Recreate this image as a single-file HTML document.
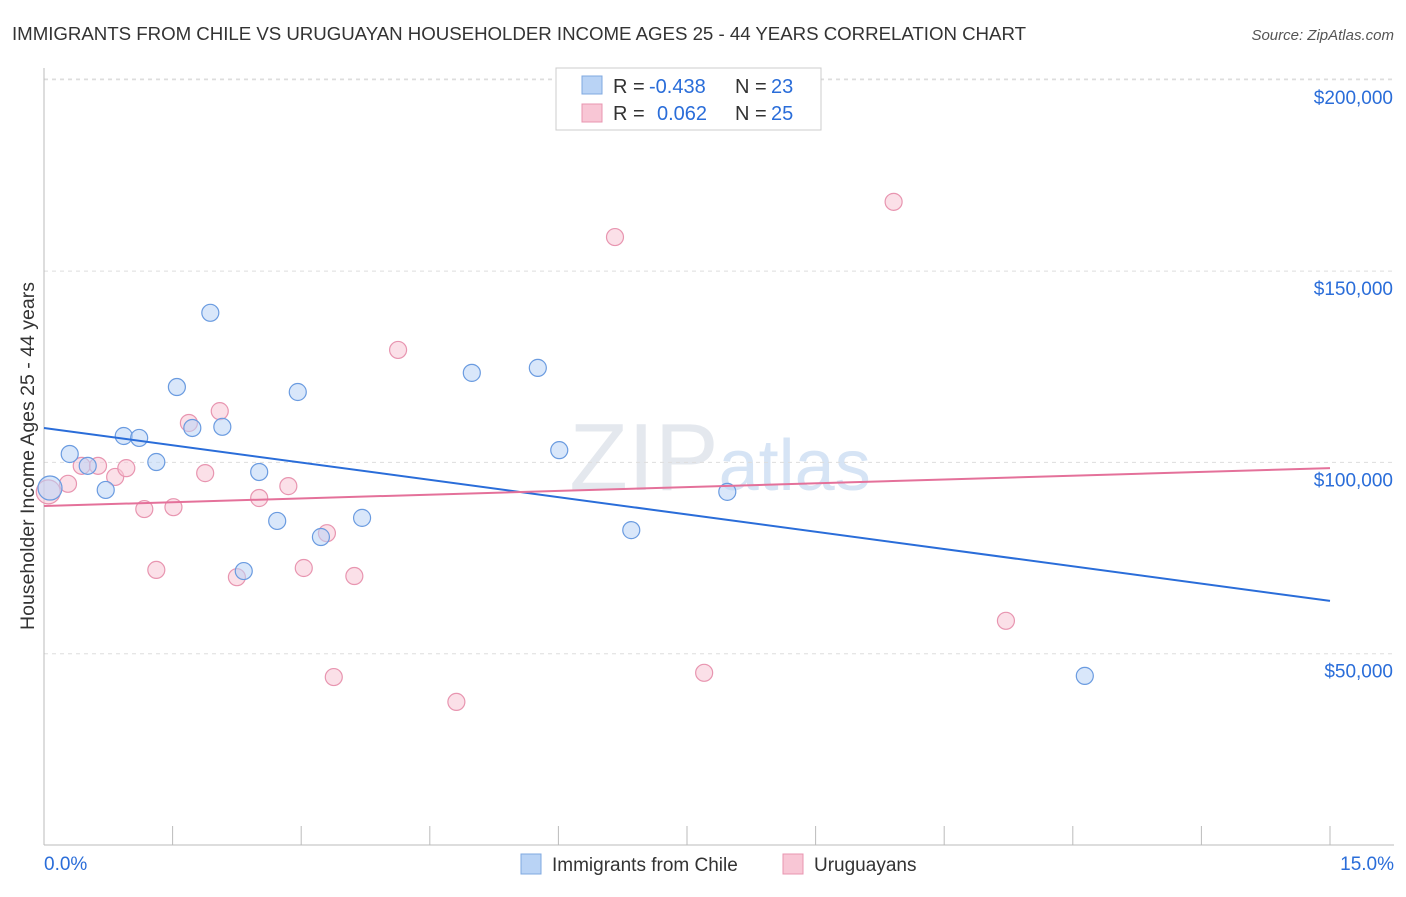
<!DOCTYPE html>
<html><head><meta charset="utf-8"><style>
body{margin:0;background:#fff;font-family:"Liberation Sans",sans-serif;}
svg text{font-family:"Liberation Sans",sans-serif;}
</style></head><body>
<svg id="chart" width="1406" height="892">
<text x="12" y="40" font-size="18.7" fill="#333" textLength="1014">IMMIGRANTS FROM CHILE VS URUGUAYAN HOUSEHOLDER INCOME AGES 25 - 44 YEARS CORRELATION CHART</text>
<text x="1394" y="40" font-size="15" fill="#555" font-style="italic" text-anchor="end">Source: ZipAtlas.com</text>
<text x="720" y="490" font-size="96" fill="#e4e8ee" text-anchor="middle" font-family="Liberation Serif">ZIP<tspan fill="#d6e4f5" font-family="Liberation Sans" font-size="72">atlas</tspan></text>
<text transform="translate(34,456) rotate(-90)" font-size="19.5" fill="#333" text-anchor="middle">Householder Income Ages 25 - 44 years</text>
<g id="grid"></g><g id="axes"></g><g id="marks"></g>
<g>
<rect x="556" y="68" width="265" height="62" fill="#fff" stroke="#ccc"/>
<rect x="582" y="76" width="20" height="18" fill="#b9d3f5" stroke="#7fa8e0"/>
<text x="613" y="93" font-size="20" fill="#333">R =</text>
<text x="649" y="93" font-size="20" fill="#2a6dd9">-0.438</text>
<text x="735" y="93" font-size="20" fill="#333">N =</text>
<text x="771" y="93" font-size="20" fill="#2a6dd9">23</text>
<rect x="582" y="104" width="20" height="18" fill="#f8c6d5" stroke="#e895b0"/>
<text x="613" y="120" font-size="20" fill="#333">R =</text>
<text x="657" y="120" font-size="20" fill="#2a6dd9">0.062</text>
<text x="735" y="120" font-size="20" fill="#333">N =</text>
<text x="771" y="120" font-size="20" fill="#2a6dd9">25</text>
</g>
<g>
<rect x="521" y="854" width="20" height="20" fill="#b9d3f5" stroke="#7fa8e0"/>
<text x="552" y="871" font-size="19" fill="#333">Immigrants from Chile</text>
<rect x="783" y="854" width="20" height="20" fill="#f8c6d5" stroke="#e895b0"/>
<text x="814" y="871" font-size="19" fill="#333">Uruguayans</text>
</g>
</svg>
<script>
const blueX=[0.07,0.30,0.51,0.72,0.93,1.11,1.31,1.55,1.73,1.94,2.08,2.51,2.72,2.96,3.23,3.71,2.33,4.99,5.76,6.01,6.85,7.97,12.14];
const blueY=[93300,102200,99100,92800,106900,106400,100100,119700,109000,139100,109300,97500,84700,118400,80500,85500,71600,123400,124700,103200,82300,92300,44200];
const pinkX=[0.05,0.28,0.44,0.63,0.83,0.96,1.17,1.31,1.51,1.69,1.88,2.05,2.25,2.51,2.85,3.03,3.30,3.38,3.62,4.13,4.81,6.66,7.70,9.91,11.22];
const pinkY=[92300,94400,99100,99100,96200,98500,87800,71900,88300,110300,97200,113400,70000,90700,93800,72400,81500,43900,70300,129400,37400,158900,45000,168100,58600];
const blueTrend=[109000,63800];
const pinkTrend=[88600,98500];
const yTicks=[50000,100000,150000,200000];
const yTickLabels=["$50,000","$100,000","$150,000","$200,000"];
const xTicks=[0,1.5,3,4.5,6,7.5,9,10.5,12,13.5,15];
const NS="http://www.w3.org/2000/svg";
const X0=44,X1=1330,YB=845,PXPER=191.3/50000;
const sx=v=>X0+(v/15)*(X1-X0);
const sy=v=>YB-v*PXPER;
function mk(tag,attrs,parent){const e=document.createElementNS(NS,tag);for(const k in attrs)e.setAttribute(k,attrs[k]);document.getElementById(parent).appendChild(e);return e;}
yTicks.forEach((t,i)=>{
 const l=mk('line',{x1:X0,x2:1394,y1:sy(t),y2:sy(t),stroke:'#ddd','stroke-dasharray':'4,4'},'grid');
 
 
 const tx=mk('text',{x:1393,y:sy(t)+24,'font-size':19,fill:'#2a6dd9','text-anchor':'end'},'axes');
 tx.textContent=yTickLabels[i];
 
 
});
const tl=mk('line',{x1:X0,x2:1394,y1:79,y2:79,stroke:'#ddd','stroke-dasharray':'4,4'},'grid');


const ya=mk('line',{x1:X0,x2:X0,y1:68,y2:YB,stroke:'#bbb'},'axes');


const xa=mk('line',{x1:X0,x2:1394,y1:YB,y2:YB,stroke:'#bbb'},'axes');


xTicks.forEach(t=>{
 const l=mk('line',{x1:sx(t),x2:sx(t),y1:826,y2:YB,stroke:'#bbb'},'axes');
 
 
});
const xl0=mk('text',{x:44,y:870,'font-size':19,fill:'#2a6dd9'},'axes');xl0.textContent='0.0%';


const xl1=mk('text',{x:1394,y:870,'font-size':19,fill:'#2a6dd9','text-anchor':'end'},'axes');xl1.textContent='15.0%';


function pts(xs,ys,fill,stroke,name){xs.forEach((x,i)=>{
 const c=mk('circle',{cx:sx(x),cy:sy(ys[i]),r:i===0?12:8.5,fill:fill,'fill-opacity':0.55,stroke:stroke,'stroke-width':1.2},'marks');
 
 
});}
pts(pinkX,pinkY,'#f8c6d5','#e895b0','uruguayans-point');
pts(blueX,blueY,'#b9d3f5','#6a9be0','chile-point');
const bl=mk('line',{x1:sx(0),y1:sy(blueTrend[0]),x2:sx(15),y2:sy(blueTrend[1]),stroke:'#2a6dd9','stroke-width':2},'marks');


const pl=mk('line',{x1:sx(0),y1:sy(pinkTrend[0]),x2:sx(15),y2:sy(pinkTrend[1]),stroke:'#e4719a','stroke-width':2},'marks');


</script>
</body></html>
